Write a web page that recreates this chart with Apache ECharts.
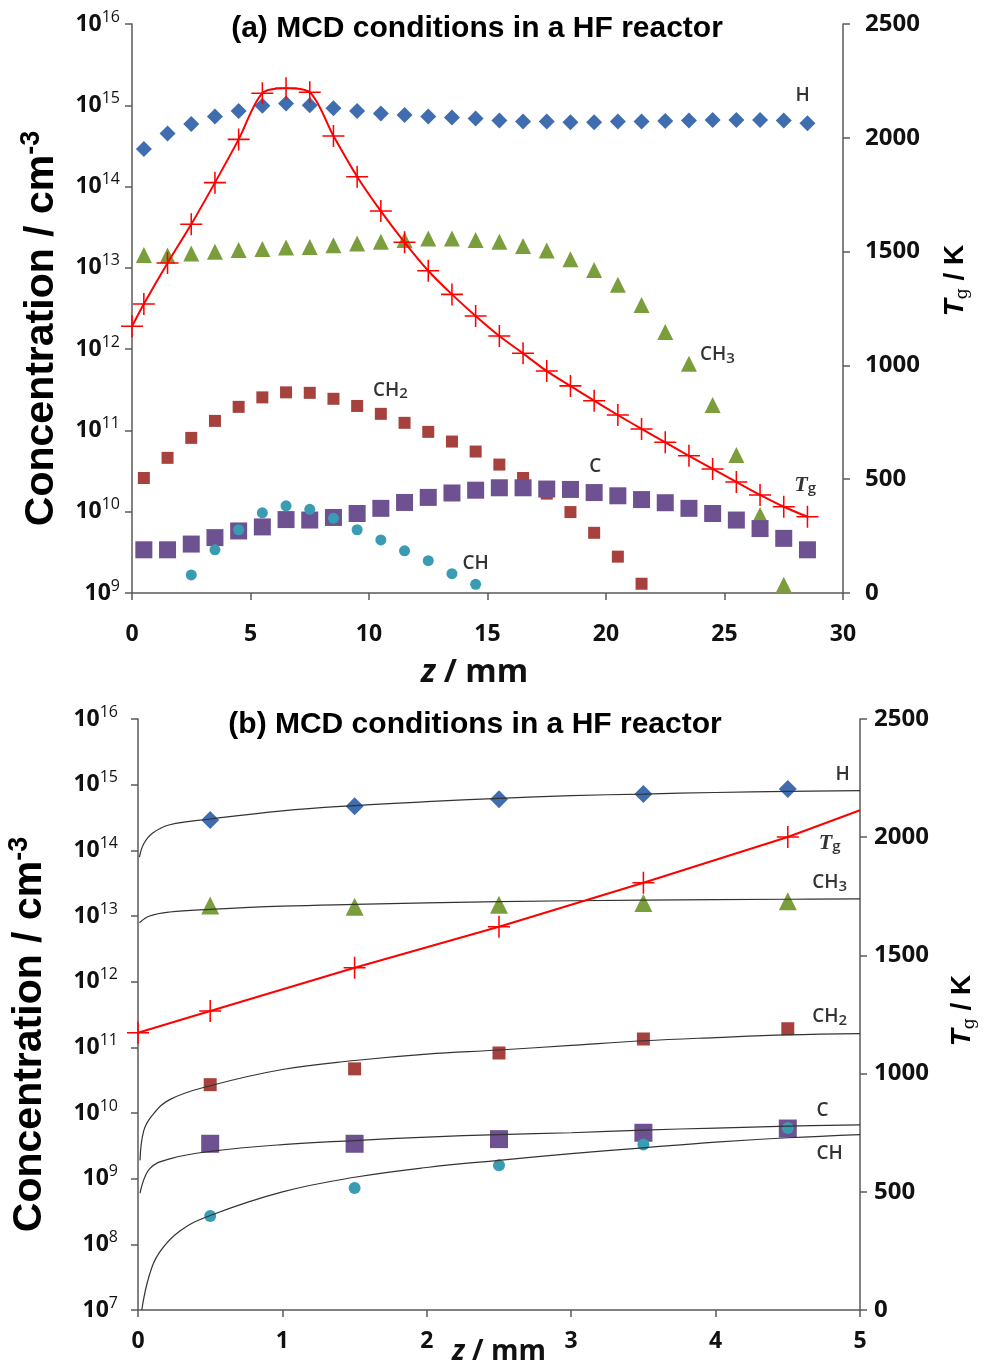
<!DOCTYPE html>
<html>
<head>
<meta charset="utf-8">
<script src="https://cdn.jsdelivr.net/npm/echarts@6/dist/echarts.min.js"></script>
<style>
  html, body { margin: 0; padding: 0; background: #fff; }
  #main { width: 987px; height: 1371px; }
</style>
</head>
<body>
<div id="main"></div>
<script>
// ---- panel (a): profiles along z, 0-30 mm ----
var zTop = [0.5, 1.5, 2.5, 3.5, 4.5, 5.5, 6.5, 7.5, 8.5, 9.5, 10.5, 11.5, 12.5, 13.5, 14.5,
  15.5, 16.5, 17.5, 18.5, 19.5, 20.5, 21.5, 22.5, 23.5, 24.5, 25.5, 26.5, 27.5, 28.5];
var hTop = [2.9e14, 4.5e14, 5.9e14, 7.3e14, 8.5e14, 9.9e14, 1.05e15, 1.0e15, 9.2e14, 8.5e14,
  7.9e14, 7.6e14, 7.3e14, 7.1e14, 6.9e14, 6.5e14, 6.3e14, 6.3e14, 6.2e14, 6.2e14,
  6.3e14, 6.3e14, 6.4e14, 6.5e14, 6.6e14, 6.6e14, 6.6e14, 6.5e14, 6.0e14];
var ch3Top = [1.44e13, 1.42e13, 1.5e13, 1.58e13, 1.66e13, 1.7e13, 1.78e13, 1.8e13, 1.9e13, 2.0e13,
  2.1e13, 2.2e13, 2.3e13, 2.3e13, 2.2e13, 2.1e13, 1.86e13, 1.63e13, 1.28e13, 9.4e12,
  6.2e12, 3.5e12, 1.63e12, 6.6e11, 2.05e11, 5.0e10, 9.1e9, 1.26e9, null];
var ch2Top = [2.6e10, 4.6e10, 8.1e10, 1.31e11, 1.95e11, 2.55e11, 2.94e11, 2.9e11, 2.45e11, 2.0e11,
  1.6e11, 1.24e11, 9.6e10, 7.3e10, 5.5e10, 3.8e10, 2.6e10, 1.67e10, 9.9e9, 5.5e9,
  2.8e9, 1.3e9, null, null, null, null, null, null, null];
var cTop = [3.4e9, 3.4e9, 4.0e9, 4.8e9, 5.8e9, 6.5e9, 8.0e9, 7.9e9, 8.5e9, 9.5e9,
  1.1e10, 1.3e10, 1.5e10, 1.7e10, 1.84e10, 1.97e10, 1.97e10, 1.9e10, 1.88e10, 1.72e10,
  1.57e10, 1.41e10, 1.29e10, 1.1e10, 9.5e9, 7.9e9, 6.2e9, 4.7e9, 3.4e9];
var chTop = [null, null, 1.67e9, 3.4e9, 6.0e9, 9.7e9, 1.18e10, 1.07e10, 8.3e9, 6.0e9,
  4.5e9, 3.3e9, 2.5e9, 1.73e9, 1.28e9, null, null, null, null, null,
  null, null, null, null, null, null, null, null, null];
var tgTopZ = [0, 0.5, 1.5, 2.5, 3.5, 4.5, 5.5, 6.5, 7.5, 8.5, 9.5, 10.5, 11.5, 12.5, 13.5, 14.5,
  15.5, 16.5, 17.5, 18.5, 19.5, 20.5, 21.5, 22.5, 23.5, 24.5, 25.5, 26.5, 27.5, 28.5];
var tgTop = [1172, 1270, 1450, 1620, 1803, 1993, 2196, 2218, 2200, 2008, 1829, 1678, 1541, 1416, 1312,
  1217, 1129, 1053, 975, 910, 845, 782, 721, 662, 603, 545, 488, 431, 379, 335];
// text labels [name, z, concentration]
var labelsTop = [['H', 28.3, 1.3e15], ['CH3', 24.7, 8.5e11], ['CH2', 10.9, 3.1e11],
  ['C', 19.55, 3.6e10], ['CH', 14.5, 2.3e9], ['Tg', 28.4, 2.1e10]];

// ---- panel (b): near-substrate region, 0-5 mm ----
var zBot = [0.5, 1.5, 2.5, 3.5, 4.5];
var hBot = [2.9e14, 4.7e14, 6.0e14, 7.2e14, 8.6e14];
var ch3Bot = [1.44e13, 1.38e13, 1.48e13, 1.58e13, 1.67e13];
var ch2Bot = [2.7e10, 4.7e10, 8.2e10, 1.34e11, 1.92e11];
var cBot = [3.4e9, 3.4e9, 4.0e9, 5.0e9, 5.8e9];
var chBot = [2.7e8, 7.2e8, 1.6e9, 3.3e9, 5.9e9];
var tgBotZ = [0, 0.5, 1.5, 2.5, 3.5, 4.5, 5];
var tgBot = [1173, 1265, 1448, 1621, 1807, 2001, 2114];
// fitted curves
var hFitZ = [0.01, 0.04, 0.1, 0.22, 0.5, 1, 1.5, 2, 2.5, 3, 3.5, 4, 4.5, 5];
var hFit = [7.9e13, 1.26e14, 1.82e14, 2.45e14, 3.0e14, 4.0e14, 4.8e14, 5.5e14, 6.2e14, 6.8e14, 7.2e14, 7.6e14, 7.9e14, 8.1e14];
var ch3FitZ = [0.01, 0.08, 0.22, 0.5, 1, 1.5, 2.5, 3.5, 4.5, 5];
var ch3Fit = [7.9e12, 1.0e13, 1.15e13, 1.26e13, 1.41e13, 1.5e13, 1.66e13, 1.74e13, 1.8e13, 1.82e13];
var ch2FitZ = [0.014, 0.04, 0.1, 0.22, 0.5, 1, 1.5, 2, 2.5, 3, 3.5, 4, 4.5, 5];
var ch2Fit = [1.9e9, 5.4e9, 9.3e9, 1.6e10, 2.6e10, 4.6e10, 6.3e10, 7.9e10, 9.1e10, 1.07e11, 1.26e11, 1.41e11, 1.55e11, 1.62e11];
var cFitZ = [0.014, 0.08, 0.22, 0.5, 1, 1.5, 2, 2.5, 3, 3.5, 4, 4.5, 5];
var cFit = [6.0e8, 1.41e9, 2.0e9, 2.6e9, 3.3e9, 3.8e9, 4.3e9, 4.7e9, 5.0e9, 5.5e9, 5.9e9, 6.3e9, 6.6e9];
var chFitZ = [0.026, 0.077, 0.15, 0.29, 0.5, 1, 1.5, 2, 2.5, 3, 3.5, 4, 4.5, 5];
var chFit = [1.0e7, 3.3e7, 7.6e7, 1.6e8, 2.75e8, 6.3e8, 1.05e9, 1.48e9, 1.9e9, 2.4e9, 2.95e9, 3.6e9, 4.2e9, 4.7e9];
var labelsBot = [['H', 4.88, 1.4e15], ['Tg', 4.79, 1.3e14], ['CH3', 4.79, 3.2e13],
  ['CH2', 4.79, 2.9e11], ['C', 4.74, 1.1e10], ['CH', 4.79, 2.4e9]];

var chart = echarts.init(document.getElementById('main'));

var colH = '#3F6DAF', colCH3 = '#7A9E3C', colCH2 = '#A6413E', colC = '#6E5190', colCH = '#3A9CB3', colTg = '#FF0000';
var cross = 'path://M9.3,0h1.4v20h-1.4z M0,9.3h20v1.4h-20z';
var numFont = 'Open Sans';

function zip(xs, ys) {
  return xs.map(function (x, i) { return [x, ys[i]]; });
}

function logLabel(v) {
  var e = Math.round(Math.log10(v));
  return '{b|10}{e|' + e + '}';
}

var logRich = {
  b: { fontSize: 23, fontWeight: 'bold', fontFamily: numFont, color: '#111', lineHeight: 30 },
  e: { fontSize: 16, fontWeight: 'normal', fontFamily: numFont, color: '#111', lineHeight: 14, verticalAlign: 'top' }
};

var concName = '{t|Concentration / cm}{s|-3}';
var concRich = {
  t: { fontSize: 41, fontWeight: 'bold', fontFamily: 'Liberation Sans', color: '#000', lineHeight: 48 },
  s: { fontSize: 27, fontWeight: 'bold', fontFamily: 'Liberation Sans', color: '#000', lineHeight: 24, verticalAlign: 'top' }
};
var tgName = '{i|T}{s|g}{n| / K}';
var tgRich = {
  i: { fontSize: 28, fontWeight: 'bold', fontStyle: 'italic', fontFamily: 'Liberation Sans', color: '#000', lineHeight: 32 },
  s: { fontSize: 17, fontFamily: 'DejaVu Serif', color: '#000', lineHeight: 18, verticalAlign: 'bottom' },
  n: { fontSize: 28, fontWeight: 'bold', fontFamily: 'Liberation Sans', color: '#000', lineHeight: 32 }
};
function zRich(size) {
  return {
    i: { fontSize: size, fontWeight: 'bold', fontStyle: 'italic', fontFamily: numFont, color: '#111' },
    n: { fontSize: size, fontWeight: 'bold', fontFamily: numFont, color: '#111' }
  };
}
var zName = '{i|z}{n| / mm}';

var axisLine = { lineStyle: { color: '#5a5a5a', width: 1.5 } };
var axisTick = { inside: false, length: 7, lineStyle: { color: '#5a5a5a', width: 1.5 } };
var plainNum = function (v) { return String(v); };

function labelSeries(list, xi, yi) {
  return {
    type: 'scatter',
    xAxisIndex: xi,
    yAxisIndex: yi,
    symbolSize: 0,
    silent: true,
    z: 10,
    data: list.map(function (d) { return { name: d[0], value: [d[1], d[2]] }; }),
    label: {
      show: true,
      position: 'inside',
      formatter: function (p) {
        if (p.name === 'Tg') return '{i|T}{s|g}';
        return p.name.replace(/(\d)$/, '{s|$1}');
      },
      rich: {
        i: { fontSize: 22, fontStyle: 'italic', fontWeight: 'bold', fontFamily: 'Liberation Serif', color: '#000', lineHeight: 22 },
        s: { fontSize: 15, fontWeight: 600, fontFamily: numFont, color: '#000', lineHeight: 14, verticalAlign: 'bottom', padding: [8, 0, 0, 0] }
      },
      fontSize: 19,
      fontWeight: 600,
      fontFamily: numFont,
      color: '#000',
      lineHeight: 22
    }
  };
}

function markerSeries(xs, ys, xi, yi, symbol, size, color) {
  return {
    type: 'scatter',
    xAxisIndex: xi,
    yAxisIndex: yi,
    symbol: symbol,
    symbolSize: size,
    itemStyle: { color: color, opacity: 1 },
    data: zip(xs, ys).filter(function (d) { return d[1] != null; })
  };
}

function fitSeries(xs, ys) {
  return {
    type: 'line',
    xAxisIndex: 1,
    yAxisIndex: 2,
    smooth: 0.4,
    showSymbol: false,
    symbol: 'none',
    lineStyle: { color: '#333', width: 1.2 },
    data: zip(xs, ys)
  };
}

var option = {
  backgroundColor: '#fff',
  animation: false,
  title: [
    {
      text: '(a) MCD conditions in a HF reactor',
      left: 472, top: 9, textAlign: 'center',
      textStyle: { fontSize: 30, fontWeight: 'bold', fontFamily: 'Liberation Sans', color: '#000' }
    },
    {
      text: '(b) MCD conditions in a HF reactor',
      left: 470, top: 705, textAlign: 'center',
      textStyle: { fontSize: 30, fontWeight: 'bold', fontFamily: 'Liberation Sans', color: '#000' }
    }
  ],
  grid: [
    { left: 132, top: 24, width: 711, height: 569, containLabel: false, outerBoundsMode: 'none' },
    { left: 138, top: 719, width: 722, height: 591, containLabel: false, outerBoundsMode: 'none' }
  ],
  xAxis: [
    {
      gridIndex: 0, type: 'value', min: 0, max: 30, interval: 5,
      axisLine: axisLine, axisTick: axisTick, splitLine: { show: false },
      axisLabel: { margin: 30, fontSize: 23, fontWeight: 'bold', fontFamily: numFont, color: '#111' },
      name: zName, nameLocation: 'middle', nameGap: 64, nameMoveOverlap: false,
      nameTextStyle: { rich: zRich(32), padding: [0, 26, 0, 0] }
    },
    {
      gridIndex: 1, type: 'value', min: 0, max: 5, interval: 1,
      axisLine: axisLine, axisTick: axisTick, splitLine: { show: false },
      axisLabel: { margin: 20, fontSize: 23, fontWeight: 'bold', fontFamily: numFont, color: '#111' },
      name: zName, nameLocation: 'middle', nameGap: 28, nameMoveOverlap: false,
      nameTextStyle: { rich: zRich(28) }
    }
  ],
  yAxis: [
    {
      gridIndex: 0, type: 'log', logBase: 10, min: 1e9, max: 1e16, splitNumber: 7,
      axisLine: axisLine, axisTick: axisTick, splitLine: { show: false }, minorTick: { show: false },
      axisLabel: { margin: 12, formatter: logLabel, rich: logRich },
      name: concName, nameLocation: 'middle', nameGap: 66, nameRotate: 90,
      nameTextStyle: { rich: concRich, padding: [0, 40, 0, 0] }
    },
    {
      gridIndex: 0, type: 'value', position: 'right', min: 0, max: 2500, interval: 500,
      axisLine: { show: true, lineStyle: { color: '#5a5a5a', width: 1.5 } }, axisTick: axisTick,
      splitLine: { show: false },
      axisLabel: { margin: 22, fontSize: 24, fontWeight: 'bold', fontFamily: numFont, color: '#111', formatter: plainNum },
      name: tgName, nameLocation: 'middle', nameGap: 96, nameRotate: 90,
      nameTextStyle: { rich: tgRich, padding: [0, 0, 0, 56] }
    },
    {
      gridIndex: 1, type: 'log', logBase: 10, min: 1e7, max: 1e16, splitNumber: 9,
      axisLine: axisLine, axisTick: axisTick, splitLine: { show: false }, minorTick: { show: false },
      axisLabel: { margin: 20, formatter: logLabel, rich: logRich },
      name: concName, nameLocation: 'middle', nameGap: 84, nameRotate: 90,
      nameTextStyle: { rich: concRich, padding: [0, 40, 0, 0] }
    },
    {
      gridIndex: 1, type: 'value', position: 'right', min: 0, max: 2500, interval: 500,
      axisLine: { show: true, lineStyle: { color: '#5a5a5a', width: 1.5 } }, axisTick: axisTick,
      splitLine: { show: false },
      axisLabel: { margin: 14, fontSize: 24, fontWeight: 'bold', fontFamily: numFont, color: '#111', formatter: plainNum },
      name: tgName, nameLocation: 'middle', nameGap: 86, nameRotate: 90,
      nameTextStyle: { rich: tgRich, padding: [0, 0, 0, 8] }
    }
  ],
  series: [
    // panel (a)
    markerSeries(zTop, hTop, 0, 0, 'diamond', 16, colH),
    markerSeries(zTop, ch3Top, 0, 0, 'triangle', 16, colCH3),
    markerSeries(zTop, ch2Top, 0, 0, 'rect', 12, colCH2),
    markerSeries(zTop, cTop, 0, 0, 'rect', 17, colC),
    markerSeries(zTop, chTop, 0, 0, 'circle', 11, colCH),
    {
      type: 'line', xAxisIndex: 0, yAxisIndex: 1, smooth: 0.3,
      symbol: cross, symbolSize: 22, showAllSymbol: true,
      itemStyle: { color: colTg },
      lineStyle: { color: colTg, width: 2 },
      data: zip(tgTopZ, tgTop), z: 5
    },
    labelSeries(labelsTop, 0, 0),
    // panel (b)
    fitSeries(hFitZ, hFit),
    fitSeries(ch3FitZ, ch3Fit),
    fitSeries(ch2FitZ, ch2Fit),
    fitSeries(cFitZ, cFit),
    fitSeries(chFitZ, chFit),
    markerSeries(zBot, hBot, 1, 2, 'diamond', 18, colH),
    markerSeries(zBot, ch3Bot, 1, 2, 'triangle', 18, colCH3),
    markerSeries(zBot, ch2Bot, 1, 2, 'rect', 13, colCH2),
    markerSeries(zBot, cBot, 1, 2, 'rect', 18, colC),
    markerSeries(zBot, chBot, 1, 2, 'circle', 12, colCH),
    {
      type: 'line', xAxisIndex: 1, yAxisIndex: 3,
      symbol: cross, symbolSize: 22, showAllSymbol: true,
      itemStyle: { color: colTg },
      lineStyle: { color: colTg, width: 2 },
      data: zip(tgBotZ, tgBot).map(function (d) {
        return d[0] === 5 ? { value: d, symbol: 'none' } : d;
      }),
      z: 5
    },
    labelSeries(labelsBot, 1, 2)
  ]
};

chart.setOption(option);
</script>
</body>
</html>
